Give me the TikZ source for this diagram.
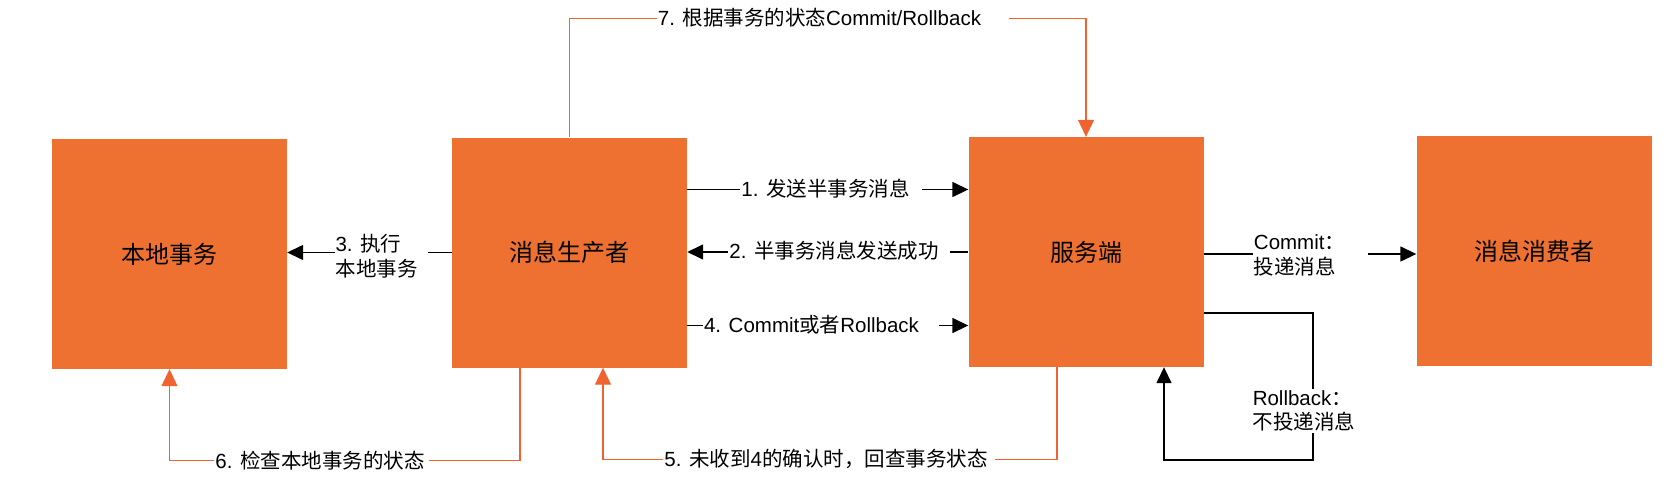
\documentclass[tikz,border=0pt]{standalone}
\usepackage{fontspec}
\setmainfont{Liberation Sans}
\newfontfamily\cjkf{Noto Sans CJK SC}
\newcommand{\cj}[1]{{\cjkf #1}}
\newcommand{\padr}[1]{\hspace*{#1}}
\usetikzlibrary{arrows.meta}
\definecolor{boxor}{HTML}{EF7131}
\definecolor{lineor}{HTML}{F0622F}
\begin{document}
\begin{tikzpicture}[x=1pt,y=-1pt,
  box/.style={fill=boxor, minimum width=235pt, minimum height=230pt, inner sep=0pt, font=\cjkf\fontsize{24}{28}\selectfont},
  blk/.style={line width=1.5pt, black},
  blkarr/.style={blk, -{Triangle[length=16pt,width=15pt]}},
  org/.style={line width=1.1pt, lineor},
  orgarr/.style={org, -{Triangle[length=17pt,width=16pt]}},
  lbl/.style={fill=white, inner xsep=1pt, inner ysep=1pt, font=\fontsize{20.5}{24.5}\selectfont, align=left},
]
\fill[white] (0,0) rectangle (1680,492);
\useasboundingbox (0,0) rectangle (1680,492);
% boxes
\node[box] (lt) at (169.5,254) {本地事务};
\node[box] (pr) at (569.5,252.5) {消息生产者};
\node[box] (sv) at (1086,252) {服务端};
\node[box] (cs) at (1534,251) {消息消费者};
% black connectors
\draw[blkarr] ([yshift=63pt]pr.east) -- ([yshift=63pt]pr.east -| sv.west);
\draw[blkarr] (sv.west) -- (sv.west -| pr.east);
\draw[blkarr] ([yshift=-73pt]pr.east) -- ([yshift=-73pt]pr.east -| sv.west);
\draw[blkarr] (pr.west) -- (pr.west -| lt.east);
\draw[blkarr] ([yshift=-2pt]sv.east) -- ([yshift=-2pt]sv.east -| cs.west);
\coordinate (rb) at (1313,460);
\draw[blkarr] ([yshift=-61pt]sv.east) -| (rb) -| ([xshift=78pt]sv.south);
% orange connectors
\draw[orgarr] (pr.north) -- ++(0,-119) -| (sv.north);
\draw[orgarr] ([xshift=-49.5pt]pr.south) -- ++(0,93) -| (lt.south);
\draw[orgarr] ([xshift=-29pt]sv.south) -- ++(0,92) -| ([xshift=33.5pt]pr.south);
% labels
\node[lbl] (l1) at (831,189) {1. \cj{发送半事务消息}\padr{11pt}};
\node[lbl] (l2) at (839,251) {2. \cj{半事务消息发送成功}\padr{10pt}};
\node[lbl] (l3) at (381,256) {3. \cj{执行}\\\cj{本地事务}\padr{9pt}};
\node[lbl] (l4) at (821,325) {4. Commit\cj{或者}Rollback\padr{19pt}};
\node[lbl] (l5) at (829,459) {5. \cj{未收到}4\cj{的确认时，回查事务状态}\padr{6pt}};
\node[lbl] (l6) at (321.5,461) {6. \cj{检查本地事务的状态}\padr{3pt}};
\node[lbl] (l7) at (833,18) {7. \cj{根据事务的状态}Commit/Rollback\padr{27pt}};
\node[lbl] (lc) at (1310.5,255.5) {Commit\cj{：}\padr{22pt}\\\cj{投递消息}};
\node[lbl] (lr) at (1304,411) {Rollback\cj{：}\\\cj{不投递消息}};
\end{tikzpicture}
\end{document}
